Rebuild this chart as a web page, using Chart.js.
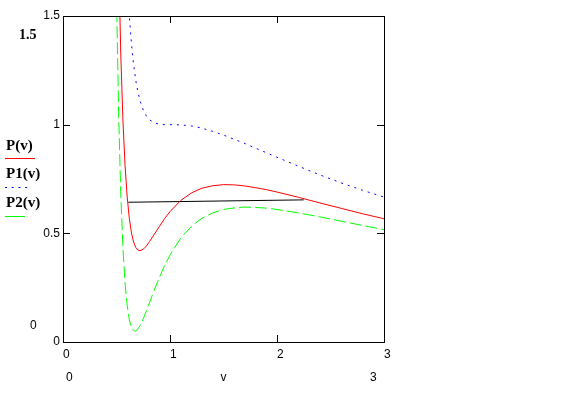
<!DOCTYPE html>
<html><head><meta charset="utf-8">
<script src="https://cdn.jsdelivr.net/npm/chart.js@4.4.1/dist/chart.umd.min.js"></script>
<style>html,body{margin:0;padding:0;background:#fff;}canvas{display:block;}</style>
</head><body>
<canvas id="c" width="563" height="396"></canvas>
<script>
// sample volumes (x values)
const vValues = [0.50,0.52,0.54,0.56,0.58,0.60,0.62,0.64,0.66,0.68,0.70,0.72,0.75,0.78,0.81,0.85,0.90,0.95,1.00,1.10,1.20,1.30,1.40,1.50,1.60,1.70,1.80,1.90,2.00,2.20,2.40,2.60,2.80,3.00];
// P(v)  (red, solid)
const pValues  = [2.400,1.762,1.325,1.022,0.812,0.667,0.568,0.502,0.460,0.435,0.423,0.420,0.427,0.442,0.463,0.493,0.531,0.568,0.600,0.651,0.686,0.708,0.719,0.724,0.723,0.718,0.710,0.701,0.690,0.666,0.640,0.615,0.590,0.567];
// P1(v) (blue, dotted)
const p1Values = [4.000,3.191,2.615,2.199,1.893,1.667,1.498,1.372,1.276,1.204,1.151,1.110,1.067,1.039,1.022,1.009,1.002,1.000,1.000,0.999,0.994,0.984,0.969,0.952,0.933,0.913,0.892,0.871,0.850,0.809,0.769,0.732,0.698,0.667];
// P2(v) (green, dashed)
const p2Values = [1.600,1.048,0.680,0.434,0.271,0.167,0.103,0.067,0.052,0.050,0.060,0.075,0.107,0.144,0.183,0.235,0.296,0.352,0.400,0.478,0.532,0.570,0.594,0.610,0.617,0.621,0.619,0.616,0.610,0.594,0.576,0.556,0.536,0.517];
// horizontal (Maxwell) line
const tieV = [0.61, 2.25];
const tieP = [0.643, 0.654];

const seriesLabels = ['P(v)', 'P1(v)', 'P2(v)'];
const seriesColors = ['#ff0000', '#0000ff', '#00ff00'];
const seriesDashes = [[], [2, 5], [12, 4]];
const legendDashes = [[], [2, 4.7], []];
const yTickLabels = {0: '0', 0.5: '0.5', 1: '1', 1.5: '1.5'};
const xTickLabels = {0: '0', 1: '1', 2: '2', 3: '3'};
const xInnerTicks = [1, 2];
const yInnerTicks = [0.5, 1];
const xLimits = [0, 3];
const yLimits = [0, 1.5];
const xLimitLabels = ['0', '3'];
const yLimitLabels = ['1.5', '0'];
const xAxisName = 'v';

const toPts = (xs, ys) => xs.map((x, i) => ({x: x, y: ys[i]}));

const frame = {
  id: 'frame',
  afterDraw(chart) {
    const {ctx, chartArea: a, scales: {x, y}} = chart;
    ctx.save();
    ctx.strokeStyle = '#000'; ctx.lineWidth = 1; ctx.setLineDash([]);
    ctx.strokeRect(a.left + 0.5, a.top + 0.5, a.right - a.left, a.bottom - a.top);
    ctx.beginPath();
    xInnerTicks.forEach(v => {
      const px = Math.round(x.getPixelForValue(v)) + 0.5;
      ctx.moveTo(px, a.bottom); ctx.lineTo(px, a.bottom - 7);
      ctx.moveTo(px, a.top); ctx.lineTo(px, a.top + 7);
    });
    yInnerTicks.forEach(v => {
      const py = Math.round(y.getPixelForValue(v)) + 0.5;
      ctx.moveTo(a.left, py); ctx.lineTo(a.left + 7, py);
      ctx.moveTo(a.right, py); ctx.lineTo(a.right - 7, py);
    });
    ctx.stroke();
    // Mathcad-style limit labels
    ctx.fillStyle = '#000';
    ctx.textBaseline = 'middle';
    ctx.font = 'bold 14px "Liberation Serif"';
    ctx.textAlign = 'left';
    ctx.fillText(yLimitLabels[0], 19, 35);
    ctx.font = '12px "Liberation Sans"';
    ctx.fillText(yLimitLabels[1], 30, 326);
    ctx.fillText(xLimitLabels[0], 66, 378);
    ctx.fillText(xLimitLabels[1], 370, 378);
    // legend
    const ly = [146, 174, 203];
    const lineY = [158.5, 187.5, 216.5];
    const lineEnd = [35, 31, 25];
    ctx.font = 'bold 15px "Liberation Serif"';
    seriesLabels.forEach((t, i) => {
      ctx.fillStyle = '#000';
      ctx.fillText(t, 6, ly[i]);
      ctx.strokeStyle = seriesColors[i];
      ctx.setLineDash(legendDashes[i]);
      ctx.beginPath(); ctx.moveTo(5, lineY[i]); ctx.lineTo(lineEnd[i], lineY[i]); ctx.stroke();
    });
    ctx.restore();
  }
};

const datasets = [
  {label: seriesLabels[0], data: toPts(vValues, pValues)},
  {label: seriesLabels[1], data: toPts(vValues, p1Values)},
  {label: seriesLabels[2], data: toPts(vValues, p2Values)}
].map((d, i) => Object.assign(d, {
  borderColor: seriesColors[i], borderWidth: 1, borderDash: seriesDashes[i],
  showLine: true, pointRadius: 0, tension: 0, fill: false
}));
datasets.push({label: 'tie', data: toPts(tieV, tieP), borderColor: '#000', borderWidth: 1,
  showLine: true, pointRadius: 0, tension: 0, fill: false});

new Chart(document.getElementById('c'), {
  type: 'scatter',
  data: {datasets},
  options: {
    responsive: false, animation: false, events: [],
    layout: {padding: {top: 16, right: 179, left: 0, bottom: 0}},
    plugins: {legend: {display: false}, tooltip: {enabled: false}},
    scales: {
      x: {
        type: 'linear', min: xLimits[0], max: xLimits[1],
        grid: {display: false, drawTicks: false}, border: {display: false},
        ticks: {stepSize: 1, align: 'start', padding: 5, autoSkip: false, maxRotation: 0,
          color: '#000', font: {family: 'Liberation Sans', size: 12},
          callback: v => xTickLabels[v] ?? ''},
        title: {display: true, text: xAxisName, color: '#000',
          font: {family: 'Liberation Sans', size: 12}, padding: {top: 0, bottom: 11}},
        afterFit: s => { s.height = 54; }
      },
      y: {
        type: 'linear', min: yLimits[0], max: yLimits[1],
        grid: {display: false, drawTicks: false}, border: {display: false},
        ticks: {stepSize: 0.5, padding: 3, color: '#000', font: {family: 'Liberation Sans', size: 12},
          callback: v => yTickLabels[v] ?? ''},
        afterFit: s => { s.width = 63; }
      }
    }
  },
  plugins: [frame]
});
</script>
</body></html>
